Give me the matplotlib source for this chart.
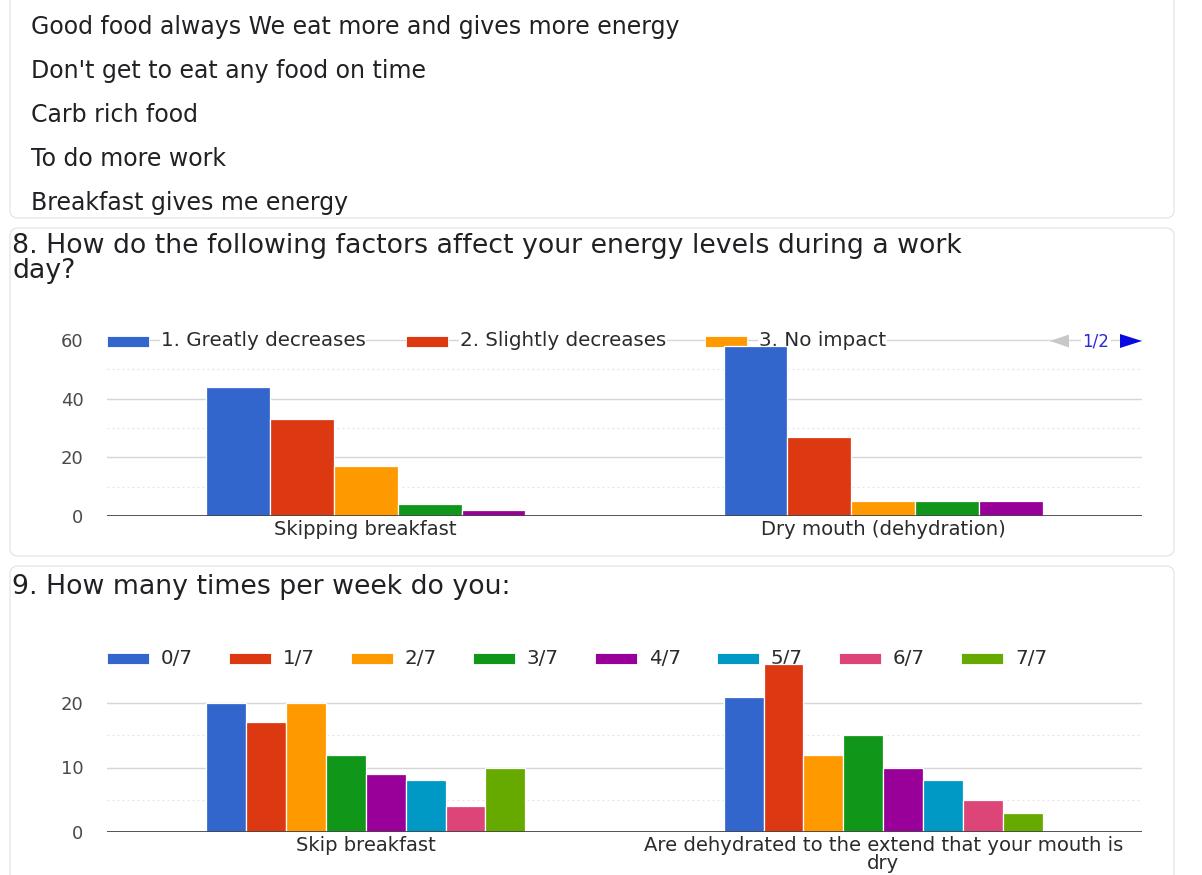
import matplotlib
matplotlib.use("Agg")
import matplotlib.pyplot as plt
from matplotlib.patches import Rectangle, FancyBboxPatch, Polygon

# ---------------- data ----------------
answers = [
    "Good food always We eat more and gives more energy",
    "Don't get to eat any food on time",
    "Carb rich food",
    "To do more work",
    "Breakfast gives me energy",
]

q8_title = ["8. How do the following factors affect your energy levels during a work", "day?"]
q8_categories = ["Skipping breakfast", "Dry mouth (dehydration)"]
q8_series = ["1. Greatly decreases", "2. Slightly decreases", "3. No impact",
             "4. Slightly increases", "5. Greatly increases"]
q8_greatly_decreases = [44, 58]
q8_slightly_decreases = [33, 27]
q8_no_impact = [17, 5]
q8_slightly_increases = [4, 5]
q8_greatly_increases = [2, 5]
q8_yticks = [0, 20, 40, 60]
q8_page = "1/2"

q9_title = "9. How many times per week do you:"
q9_categories = ["Skip breakfast", "Are dehydrated to the extend that your mouth is\ndry"]
q9_series = ["0/7", "1/7", "2/7", "3/7", "4/7", "5/7", "6/7", "7/7"]
q9_0of7 = [20, 21]
q9_1of7 = [17, 26]
q9_2of7 = [20, 12]
q9_3of7 = [12, 15]
q9_4of7 = [9, 10]
q9_5of7 = [8, 8]
q9_6of7 = [4, 5]
q9_7of7 = [10, 3]
q9_yticks = [0, 10, 20]

palette = ["#3366cc", "#dc3912", "#ff9900", "#109618", "#990099",
           "#0099c6", "#dd4477", "#66aa00"]

# ---------------- figure ----------------
W, H, DPI = 1202, 875, 100
fig = plt.figure(figsize=(W / DPI, H / DPI), dpi=DPI)
fig.patch.set_facecolor("white")

# background layer in pixel coordinates (origin top-left)
bg = fig.add_axes([0, 0, 1, 1], zorder=0)
bg.set_xlim(0, W)
bg.set_ylim(H, 0)
bg.axis("off")

card_edge = "#e6e8eb"
for (x0, y0, x1, y1) in [(10, -60, 1174, 218), (10, 228, 1174, 556), (10, 566, 1174, 920)]:
    bg.add_patch(FancyBboxPatch((x0, y0), x1 - x0, y1 - y0,
                                boxstyle="round,pad=0,rounding_size=8",
                                fc="white", ec=card_edge, lw=1.0))

text_col = "#202124"
for i, line in enumerate(answers):
    bg.text(31, 27 + 44 * i, line, fontsize=17, color=text_col, va="center", ha="left")

for i, line in enumerate(q8_title):
    bg.text(12, 246 + 25 * i, line, fontsize=19.3, color=text_col, va="center", ha="left")
bg.text(12, 587, q9_title, fontsize=19.3, color=text_col, va="center", ha="left")


def px_axes(left, right, bottom, top):
    return fig.add_axes([left / W, 1 - bottom / H, (right - left) / W, (bottom - top) / H], zorder=2)


def grouped_bars(ax, series_values, group_width=0.617):
    n = len(series_values)
    w = group_width / n
    for i, vals in enumerate(series_values):
        xs = [c - group_width / 2 + w * (i + 0.5) for c in range(len(vals))]
        ax.bar(xs, vals, width=w, color=palette[i], edgecolor="white", linewidth=0.9, zorder=3)


def style_axes(ax, yticks, minor, ymax, categories):
    ax.set_xlim(-0.5, 1.5)
    ax.set_ylim(0, ymax)
    ax.set_facecolor("none")
    for s in ax.spines.values():
        s.set_visible(False)
    ax.set_yticks(yticks)
    ax.set_yticks(minor, minor=True)
    ax.yaxis.grid(True, which="major", color="#d6d6d6", lw=1.0, zorder=0)
    ax.yaxis.grid(True, which="minor", color="#e4e4e4", lw=0.9, linestyle=(0, (1.5, 2.5)), zorder=0)
    ax.set_axisbelow(True)
    ax.tick_params(axis="y", which="both", length=0, pad=17, labelsize=13, labelcolor="#4a4a4a")
    ax.set_xticks(range(len(categories)))
    ax.set_xticklabels(categories, fontsize=14.1, color="#2b2b2b", linespacing=0.9)
    ax.tick_params(axis="x", length=0, pad=3)
    ax.axhline(0, color="#444444", lw=2.0, zorder=4)


def legend_item(ax, x, y, color, label, mask_line):
    # legend entries sit above the gridlines but beneath the bars
    ax.add_patch(Rectangle((x, y - 5.5), 42, 11, fc=color, ec="white", lw=0.6,
                           transform=bg.transData, clip_on=False, zorder=2))
    box = dict(fc="white", ec="none", pad=0.4) if mask_line else None
    ax.text(x + 54, y, label, fontsize=14.3, color="#2b2b2b", va="center", ha="left",
            bbox=box, transform=bg.transData, clip_on=False, zorder=2)


# ---- question 8 chart ----
ax8 = px_axes(107, 1142, 516, 516 - 62 * (176 / 60))
grouped_bars(ax8, [q8_greatly_decreases, q8_slightly_decreases, q8_no_impact,
                   q8_slightly_increases, q8_greatly_increases])
style_axes(ax8, q8_yticks, [10, 30, 50], 62, q8_categories)
for i, label in enumerate(q8_series[:3]):
    legend_item(ax8, 107 + 299 * i, 341, palette[i], label, True)
ax8.add_patch(Polygon([(1050, 341), (1069, 334.5), (1069, 347.5)], closed=True, fc="#c8c8c8",
                      ec="none", transform=bg.transData, clip_on=False, zorder=2))
ax8.text(1096, 341, q8_page, fontsize=12, color="#2a2ad8", va="center", ha="center",
         bbox=dict(fc="white", ec="none", pad=0.8), transform=bg.transData, clip_on=False, zorder=2)
ax8.add_patch(Polygon([(1120, 334), (1120, 348), (1142, 341)], closed=True, fc="#0a0ae0",
                      ec="none", transform=bg.transData, clip_on=False, zorder=2))

# ---- question 9 chart ----
ax9 = px_axes(107, 1142, 832, 832 - 28 * 6.45)
grouped_bars(ax9, [q9_0of7, q9_1of7, q9_2of7, q9_3of7, q9_4of7, q9_5of7, q9_6of7, q9_7of7])
style_axes(ax9, q9_yticks, [5, 15], 28, q9_categories)
for i, label in enumerate(q9_series):
    legend_item(ax9, 107 + 122 * i, 658, palette[i], label, False)

fig.savefig("out.png", dpi=DPI, facecolor="white")
